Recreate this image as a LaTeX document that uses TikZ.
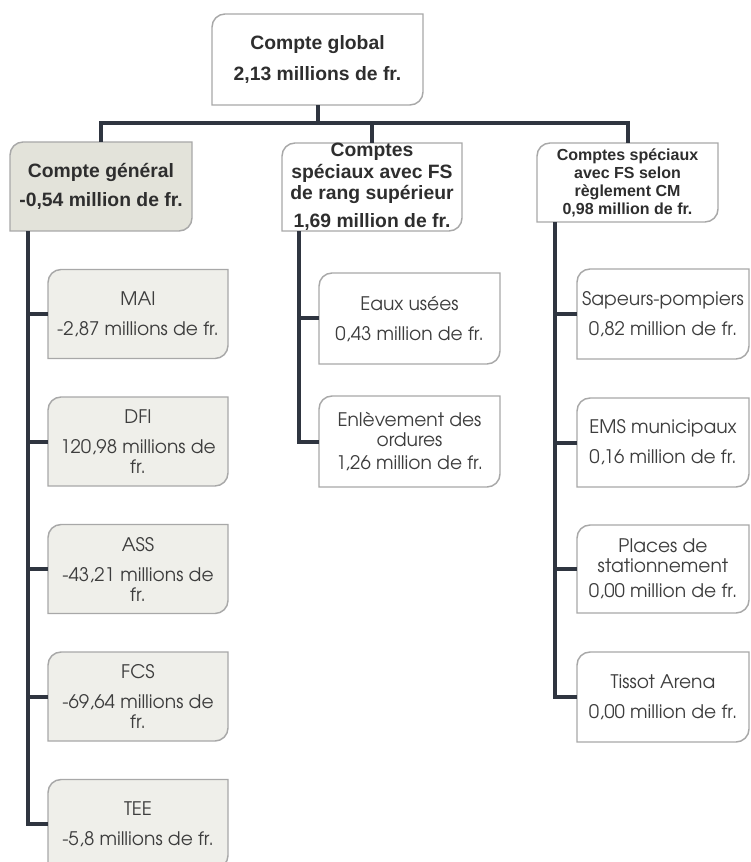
\documentclass[tikz,border=0pt]{standalone}
\usepackage{fontspec}
\setmainfont{Liberation Sans}
\newfontfamily\lf{texgyreadventor-regular.otf}
\usetikzlibrary{calc}
\definecolor{conncol}{HTML}{2F3540}
\definecolor{bordcol}{HTML}{A8A8A8}
\definecolor{genfill}{HTML}{E3E3DA}
\definecolor{leaffill}{HTML}{EFEFEA}
\definecolor{headtext}{HTML}{2E2E2E}
\definecolor{leaftext}{HTML}{3D3D3D}
\tikzset{
  conn/.style={draw=conncol, line width=3pt, line join=miter},
  shapew/.style={draw=bordcol, line width=1.1pt, fill=white},
  shapeg/.style={draw=bordcol, line width=1.1pt, fill=genfill},
  shapel/.style={draw=bordcol, line width=1.1pt, fill=leaffill},
  headbig/.style={align=center, text=headtext, font=\bfseries\fontsize{14.5}{16}\selectfont},
  headsmall/.style={align=center, text=headtext, font=\bfseries\fontsize{12}{13.5}\selectfont},
  leafstyle/.style={align=center, text=leaftext, font=\lf\fontsize{14}{15}\selectfont},
}
% name, cx, cy, w, h (px), shape style, text style, text
\newcommand\rbox[8]{%
  \path[#6] ({#2-#4/2},{#3+#5/2}) -- ({#2-#4/2},{#3-#5/2+13})
    arc[start angle=180,end angle=90,radius=9.75pt] -- ({#2+#4/2},{#3-#5/2})
    -- ({#2+#4/2},{#3+#5/2-13})
    arc[start angle=0,end angle=-90,radius=9.75pt] -- cycle;
  \node[#7, inner sep=0pt, minimum width={#4*0.75pt}, minimum height={#5*0.75pt}] (#1) at (#2,#3) {#8};
}
\begin{document}
\begin{tikzpicture}[x=0.75pt,y=-0.75pt]
\useasboundingbox (0,0) rectangle (750,862);
\clip (0,0) rectangle (750,862);
% headers
\rbox{top}{317.5}{59.5}{211}{91}{shapew}{headbig}{Compte global\\[7pt]2,13 millions de fr.}
\rbox{gen}{101}{186.5}{182}{89}{shapeg}{headbig}{Compte général\\[6pt]-0,54 million de fr.}
\rbox{mid}{372}{187}{180}{88}{shapew}{headbig}{Comptes\\spéciaux avec FS\\de rang supérieur\\[5pt]1,69 million de fr.}
\rbox{rt}{627.5}{182.5}{181}{79}{shapew}{headsmall}{Comptes spéciaux\\avec FS selon\\règlement CM\\0,98 million de fr.}
% left leaves
\rbox{mai}{138}{314}{180}{89}{shapel}{leafstyle}{MAI\\[7.5pt]-2,87 millions de fr.}
\rbox{dfi}{138}{441.5}{180}{89}{shapel}{leafstyle}{DFI\\[7.5pt]120,98 millions de\\fr.}
\rbox{ass}{138}{569}{180}{89}{shapel}{leafstyle}{ASS\\[7.5pt]-43,21 millions de\\fr.}
\rbox{fcs}{138}{696.5}{180}{89}{shapel}{leafstyle}{FCS\\[7.5pt]-69,64 millions de\\fr.}
\rbox{tee}{138}{824}{180}{89}{shapel}{leafstyle}{TEE\\[7.5pt]-5,8 millions de fr.}
% middle leaves
\rbox{eaux}{409.5}{318.5}{181}{91}{shapew}{leafstyle}{Eaux usées\\[7.5pt]0,43 million de fr.}
\rbox{enl}{409.5}{441.5}{181}{91}{shapew}{leafstyle}{Enlèvement des\\ordures\\[2.5pt]1,26 million de fr.}
% right leaves
\rbox{sap}{663}{314}{172}{90}{shapew}{leafstyle}{Sapeurs-pompiers\\[7.5pt]0,82 million de fr.}
\rbox{ems}{663}{442.5}{172}{89}{shapew}{leafstyle}{EMS municipaux\\[7.5pt]0,16 million de fr.}
\rbox{pla}{663}{569}{172}{88}{shapew}{leafstyle}{Places de\\stationnement\\[3.5pt]0,00 million de fr.}
\rbox{tis}{663}{697}{172}{90}{shapew}{leafstyle}{Tissot Arena\\[7.5pt]0,00 million de fr.}
% connectors
\coordinate (bar) at (0,123);
\coordinate (lx) at (28,0);
\coordinate (mx) at (299,0);
\coordinate (rx) at (555,0);
\draw[conn] (top.south) -- (top.south |- bar);
\draw[conn] (gen.north) -- (gen.north |- bar) -- (rt.north |- bar) -- (rt.north);
\draw[conn] (mid.north) -- (mid.north |- bar);
\draw[conn] (gen.south -| lx) |- (tee.west);
\draw[conn] (mai.west) -- (mai.west -| lx);
\draw[conn] (dfi.west) -- (dfi.west -| lx);
\draw[conn] (ass.west) -- (ass.west -| lx);
\draw[conn] (fcs.west) -- (fcs.west -| lx);
\draw[conn] (mid.south -| mx) |- (enl.west);
\draw[conn] (eaux.west) -- (eaux.west -| mx);
\draw[conn] (rt.south -| rx) |- (tis.west);
\draw[conn] (sap.west) -- (sap.west -| rx);
\draw[conn] (ems.west) -- (ems.west -| rx);
\draw[conn] (pla.west) -- (pla.west -| rx);
\end{tikzpicture}
\end{document}
